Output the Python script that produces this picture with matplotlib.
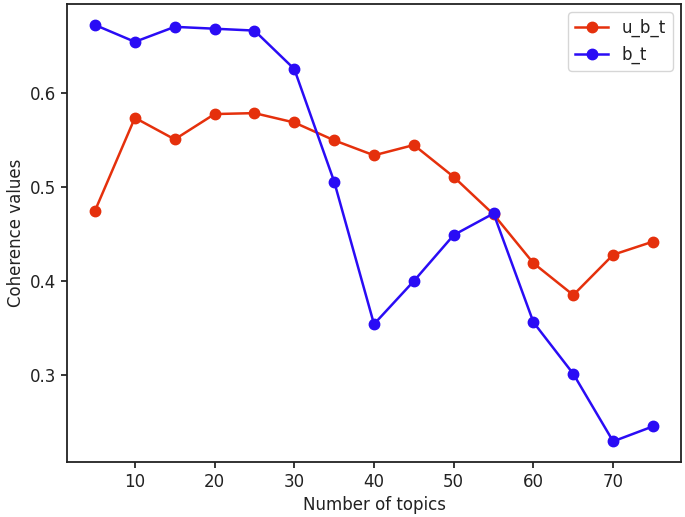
import matplotlib.pyplot as plt

topics = [5, 10, 15, 20, 25, 30, 35, 40, 45, 50, 55, 60, 65, 70, 75]
u_b_t = [0.475, 0.574, 0.551, 0.578, 0.579, 0.569, 0.550, 0.534, 0.545, 0.511,
         0.471, 0.419, 0.385, 0.428, 0.442]
b_t = [0.673, 0.655, 0.671, 0.669, 0.667, 0.626, 0.506, 0.354, 0.400, 0.449,
       0.472, 0.356, 0.301, 0.229, 0.245]

plt.rcParams.update({
    "font.size": 12,
    "lines.linewidth": 1.8,
    "lines.markersize": 7.5,
    "axes.linewidth": 1.3,
    "xtick.major.size": 4.2,
    "ytick.major.size": 4.2,
    "xtick.major.width": 1.1,
    "ytick.major.width": 1.1,
    "text.color": "#222222",
    "xtick.labelcolor": "#222222",
    "ytick.labelcolor": "#222222",
    "axes.labelcolor": "#222222",
    "axes.edgecolor": "#222222",
})

fig = plt.figure(figsize=(6.85, 5.17), dpi=100)
ax = fig.add_axes([0.098, 0.106, 0.896, 0.886])
ax.plot(topics, u_b_t, color="#e5300c", marker="o", label="u_b_t")
ax.plot(topics, b_t, color="#2a0cf5", marker="o", label="b_t")
ax.set_xlabel("Number of topics")
ax.set_ylabel("Coherence values")
ax.legend(loc="upper right")
fig.savefig("out.png")
